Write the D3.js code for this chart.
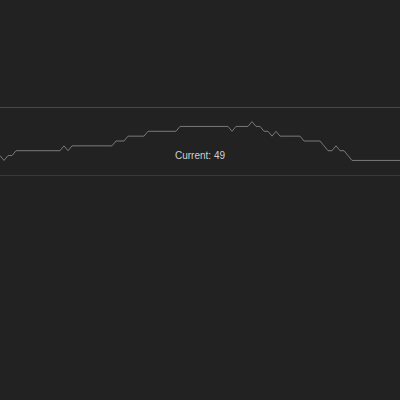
<!DOCTYPE html>
<html>
<head>
<meta charset="utf-8">
<script src="https://cdn.jsdelivr.net/npm/d3@7"></script>
<style>
  html, body { margin: 0; padding: 0; background: #222; }
  svg { display: block; }
</style>
</head>
<body>
<svg width="400" height="400"></svg>
<script>
// readings, one per tick
var values = [
  50, 49, 50, 50, 51, 51, 51, 51, 51, 51,
  51, 51, 51, 51, 51, 51, 52, 51, 52, 52,
  52, 52, 52, 52, 52, 52, 52, 52, 52, 53,
  53, 53, 54, 54, 54, 54, 54, 55, 55, 55,
  55, 55, 55, 55, 55, 56, 56, 56, 56, 56,
  56, 56, 56, 56, 56, 56, 56, 56, 55, 56,
  56, 56, 56, 57, 56, 56, 55, 55, 54, 55,
  54, 54, 54, 54, 54, 54, 53, 53, 53, 53,
  53, 52, 51, 51, 52, 51, 51, 50, 49, 49,
  49, 49, 49, 49, 49, 49, 49, 49, 49, 49,
  49
];
var upperLimit = 60;
var lowerLimit = 46;

var svg = d3.select("svg"),
    margin = {top: 107, bottom: 225},
    width = +svg.attr("width"),
    height = +svg.attr("height") - margin.top - margin.bottom;

var x = d3.scaleLinear()
    .domain([0, values.length - 1])
    .range([0, width]);

var y = d3.scaleLinear()
    .domain([lowerLimit, upperLimit])
    .range([height, 0]);

var g = svg.append("g")
    .attr("transform", "translate(0," + margin.top + ")");

g.append("line")
    .attr("x1", 0)
    .attr("x2", width)
    .attr("y1", y(upperLimit) + 0.5)
    .attr("y2", y(upperLimit) + 0.5)
    .attr("stroke", "#2f5a2f")
    .attr("stroke-width", 1);

g.append("line")
    .attr("x1", 0)
    .attr("x2", width)
    .attr("y1", y(lowerLimit) + 0.5)
    .attr("y2", y(lowerLimit) + 0.5)
    .attr("stroke", "#5a2a2a")
    .attr("stroke-width", 1);

var line = d3.line()
    .x(function(d, i) { return x(i); })
    .y(function(d) { return y(d); });

g.append("path")
    .datum(values)
    .attr("fill", "none")
    .attr("stroke", "#7a7a7a")
    .attr("stroke-width", 1)
    .attr("d", line);

g.append("text")
    .attr("x", width / 2)
    .attr("y", height - 16)
    .attr("text-anchor", "middle")
    .attr("fill", "#d0d0d0")
    .style("font-family", "'Liberation Sans', Arial, sans-serif")
    .style("font-size", "10px")
    .text("Current: " + values[values.length - 1]);
</script>
</body>
</html>
